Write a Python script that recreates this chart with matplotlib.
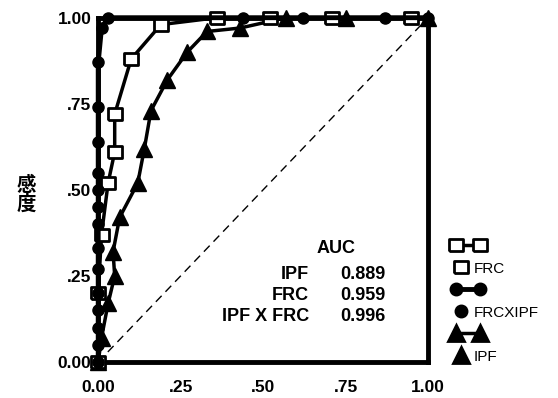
import matplotlib
matplotlib.use("Agg")
import matplotlib.pyplot as plt
from matplotlib.lines import Line2D
from matplotlib.legend_handler import HandlerLine2D

plt.rcParams['font.family'] = ['Liberation Sans', 'Noto Sans CJK JP', 'DejaVu Sans']

# ROC data (1 - specificity, sensitivity)
frc_x = [0.00, 0.00, 0.01, 0.03, 0.05, 0.05, 0.10, 0.19, 0.36, 0.52, 0.71, 0.95]
frc_y = [0.00, 0.20, 0.37, 0.52, 0.61, 0.72, 0.88, 0.98, 1.00, 1.00, 1.00, 1.00]

comb_x = [0.00, 0.00, 0.00, 0.00, 0.00, 0.00, 0.00, 0.00, 0.00, 0.00, 0.00, 0.00,
          0.00, 0.00, 0.01, 0.03, 0.44, 0.62, 0.87, 1.00]
comb_y = [0.00, 0.05, 0.10, 0.15, 0.20, 0.27, 0.33, 0.40, 0.45, 0.50, 0.55, 0.64,
          0.74, 0.87, 0.97, 1.00, 1.00, 1.00, 1.00, 1.00]

ipf_x = [0.00, 0.01, 0.03, 0.05, 0.045, 0.065, 0.12, 0.14, 0.16, 0.21, 0.27, 0.33,
         0.43, 0.57, 0.75, 1.00]
ipf_y = [0.00, 0.07, 0.17, 0.25, 0.32, 0.42, 0.52, 0.62, 0.73, 0.82, 0.90, 0.96,
         0.97, 1.00, 1.00, 1.00]

auc_names = ["IPF", "FRC", "IPF X FRC"]
auc_values = ["0.889", "0.959", "0.996"]

ticks = [0, 0.25, 0.5, 0.75, 1.0]
tick_labels = ["0.00", ".25", ".50", ".75", "1.00"]

# wide open box marker used for FRC
box = [(-1, -0.8), (1, -0.8), (1, 0.8), (-1, 0.8), (-1, -0.8)]

fig = plt.figure(figsize=(5.58, 3.98), dpi=100)
ax = fig.add_axes([0.176, 0.0905, 0.591, 0.865])

ax.plot([0, 1], [0, 1], color="black", lw=1.0, ls=(0, (6, 4)))

ax.plot(ipf_x, ipf_y, color="black", lw=2.5, marker="^", ms=11,
        mfc="black", mec="black", clip_on=False, zorder=3)
ax.plot(frc_x, frc_y, color="black", lw=2.5, marker=box, ms=10.5,
        mfc="white", mec="black", mew=2, clip_on=False, zorder=4)
ax.plot(comb_x, comb_y, color="black", lw=3.5, marker="o", ms=8,
        mfc="black", mec="black", clip_on=False, zorder=5)

ax.set_xlim(0, 1)
ax.set_ylim(0, 1)
ax.set_xticks(ticks)
ax.set_xticklabels(tick_labels)
ax.set_yticks(ticks)
ax.set_yticklabels(tick_labels)
ax.tick_params(axis="x", length=0, pad=13, labelsize=12.5)
ax.tick_params(axis="y", length=0, pad=5, labelsize=12.5)
for lab in ax.get_xticklabels() + ax.get_yticklabels():
    lab.set_fontweight("bold")
for sp in ax.spines.values():
    sp.set_linewidth(3.5)

# vertical (stacked) axis title
fig.text(26 / 558, 1 - 195 / 398, "感\n度", ha="center", va="center",
         fontsize=14, fontweight="bold", linespacing=1.0)

# AUC table
ax.text(0.72, 0.33, "AUC", ha="center", va="center", fontsize=13, fontweight="bold",
        transform=ax.transAxes)
for i, (name, val) in enumerate(zip(auc_names, auc_values)):
    yy = 0.253 - i * 0.06
    ax.text(0.64, yy, name, ha="right", va="center", fontsize=13, fontweight="bold",
            transform=ax.transAxes)
    ax.text(0.733, yy, val, ha="left", va="center", fontsize=13, fontweight="bold",
            transform=ax.transAxes)


class SingleMarker(HandlerLine2D):
    # one marker near the left of the handle box, no line
    def create_artists(self, legend, orig_handle, xdescent, ydescent,
                       width, height, fontsize, trans):
        x = -xdescent + width * 0.3
        y = (height - ydescent) / 2
        m = Line2D([x], [y], ls="none")
        self.update_prop(m, orig_handle, legend)
        m.set_transform(trans)
        return [m]


def pair(marker, ms, mfc, lw):
    return Line2D([], [], color="black", lw=lw, marker=marker, ms=ms, mfc=mfc,
                  mec="black", mew=2)


def single(marker, ms, mfc):
    return Line2D([], [], color="black", ls="none", marker=marker, ms=ms, mfc=mfc,
                  mec="black", mew=2)


handles = [pair(box, 10.5, "white", 2.5), single(box, 10.5, "white"),
           pair("o", 8, "black", 3.5), single("o", 8, "black"),
           pair("^", 11, "black", 2.5), single("^", 11, "black")]
labels = ["", "FRC", "", "FRCXIPF", "", "IPF"]
hmap = {h: SingleMarker() for h in handles[1::2]}
ax.legend(handles, labels, handler_map=hmap, loc="upper left",
          bbox_to_anchor=(451 / 558, 1 - 239 / 398), bbox_transform=fig.transFigure,
          frameon=False, numpoints=2, borderpad=0, borderaxespad=0,
          handlelength=2.2, handleheight=1.0, handletextpad=-0.7,
          labelspacing=0.45, fontsize=11)

fig.savefig("out.png", dpi=100)
